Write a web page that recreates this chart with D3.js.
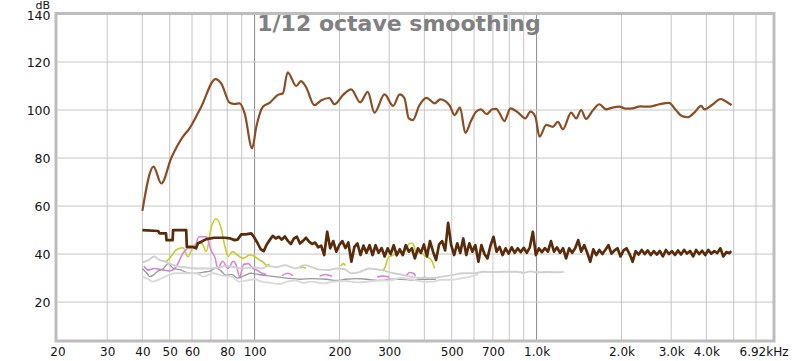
<!DOCTYPE html>
<html><head><meta charset="utf-8">
<script src="https://cdn.jsdelivr.net/npm/d3@7"></script>
<style>
html,body{margin:0;padding:0;background:#fff;}
svg{display:block;font-family:"DejaVu Sans",sans-serif;}
</style></head>
<body>
<svg id="c" width="800" height="361"></svg>
<script>
// ---------- data ----------
const title = "1/12 octave smoothing";
const yTicks = [20, 40, 60, 80, 100, 120, 140];
const xLabelTicks = [20, 30, 40, 50, 60, 80, 100, 200, 300, 500, 700, 1000, 2000, 3000, 4000, 6920];
const xGridTicks = [30, 40, 50, 60, 70, 80, 90, 100, 200, 300, 400, 500, 600, 700, 800, 900, 1000, 2000, 3000, 4000, 5000, 6000];

const mainFreq = [40,43.8,46.7,50.6,55.7,58.8,64.7,72.7,76.2,81.6,84.9,88.5,92.2,98,101.4,107,113,121,126,131,140.5,146,152,163,172,184,192,206,220,237,252,266,289,310,327,340,352,364,384,407,435,455,491,512,535,559,585,610,635,664,697,719,739,769,808,858,912,951,990,1024,1082,1141,1190,1240,1326,1381,1439,1496,1587,1670,1761,1860,1965,2070,2187,2330,2505,2721,2950,3118,3275,3430,3624,3832,3938,4221,4488,4650,4916];
const mainDb   = [58,76.4,69.4,79.9,88.9,92.4,101.4,112.9,111,103,102.5,102.8,98.6,84,93,101.4,103,106.3,107,115.7,110,112,109.7,102,104,105,102.4,106.3,108.6,103.2,107.6,98.9,106.5,101.7,106.5,104.9,96.5,95.8,102,105.1,102.8,104.4,102,97.9,101,90.5,95.4,99.3,100.3,98.3,100.3,100.5,98.7,95.4,100.7,99,96.5,99.3,97.2,88.9,93.8,93,95.1,92,98.9,96.5,100,96.3,100,102.4,100.3,101,101.4,100.6,100.7,101.5,101.4,102.4,103,100,97.5,97,98.9,101.7,100.3,102.4,104.6,103.9,102];

const noiseFreq = [
  40,45.5,46,48.5,48.7,51.2,51.4,57.2,57.5,60.4,
  62,63,64.7,67.4,72,78.3,82,85,87,89.7,
  93,97.3,99,
  102.5,105.1,107.7,110.4,113.1,116.0,118.9,121.8,124.9,128.0,
  131.2,134.5,137.9,141.3,144.8,148.5,152.2,156.0,159.9,163.9,
  168.0,172.2,176.5,180.9,185.4,190.1,194.8,199.7,204.7,209.8,
  215.0,220.4,225.9,231.6,237.4,243.3,249.4,255.6,262.0,268.5,
  275.2,282.1,289.2,296.4,303.8,311.4,319.2,327.2,335.4,343.7,
  352.3,361.1,370.2,379.4,388.9,398.6,408.6,418.8,429.3,440.0,
  451.0,462.3,473.9,485.7,497.8,510.3,523.0,536.1,549.5,563.3,
  577.4,591.8,606.6,621.8,637.3,653.2,669.6,686.3,703.5,721.1,
  739.1,757.6,776.5,795.9,815.8,836.2,857.1,878.5,900.5,923.0,
  946.1,969.8,994.0,1018.9,1044.3,1070.4,1097.2,1124.6,1152.7,1181.6,
  1211.1,1241.4,1272.4,1304.2,1336.8,1370.3,1404.5,1439.6,1475.6,1512.5,
  1550.3,1589.1,1628.8,1669.5,1711.3,1754.0,1797.9,1842.8,1888.9,1936.1,
  1984.5,2034.1,2085.0,2137.1,2190.5,2245.3,2301.4,2359.0,2418.0,2478.4,
  2540.4,2603.9,2669.0,2735.7,2804.1,2874.2,2946.0,3019.7,3095.2,3172.6,
  3251.9,3333.2,3416.5,3501.9,3589.5,3679.2,3771.2,3865.5,3962.1,4061.2,
  4162.7,4266.8,4373.4,4482.8,4594.8,4709.7,4827.5,4900];
const noiseDb = [
  50,49.6,48.6,48.6,45.8,45.8,50,50,43,43,
  42.4,44.5,45.1,46.2,46.8,46.8,46.5,45.8,46,48.2,
  48.2,48.6,47.5,
  44.5,42,41.2,44,45.8,47.6,46.5,47.2,46,47.3,
  45.5,44.2,46.5,47.2,44.4,45.5,46.8,45.2,44.2,44.8,
  42.8,43.5,39.6,49.3,42.4,45.4,41,43.8,45.4,42.5,
  44.8,36.8,43,44.4,39.6,43.5,40.5,43.7,39.6,43.7,
  40.5,42.5,39,42.4,40,43.7,39.5,42,39.6,43.7,
  41,42.4,38.2,42.4,40.5,44,39,45.4,41,37.5,
  44,45.4,41.5,53,43.7,39.6,44.5,40.5,46.5,39.6,
  44.5,41,43.7,36.8,43.7,40,38.2,43.5,47.2,41,
  43,39.6,42.4,40.2,42.8,40.5,42.4,40.8,42.6,40.5,
  42.8,49.3,39.6,42.4,40.8,42.5,41,45.4,41,42.8,
  40.5,42.4,38.2,42.4,40.5,42.4,45.8,41,43.7,40.5,
  36.8,42,39.6,41.7,40,41.8,43.7,40.2,41.5,42.4,
  39,41.5,42.4,40,36.8,41.2,39.8,41.7,40,41.5,
  39.6,41.2,39.8,41.3,39,41.7,40,41.2,39.6,41.5,
  39.8,41.7,40.2,41.3,39,41.7,40,41.4,39.6,41.7,
  40.2,41.2,40.4,42.4,39,40.8,40.4,41.2];

const yellowFreq = [48.6,50.5,52.7,55.7,58,60.4,62.5,65,67.4,70,73,76,78.3,80.5,83.5,87,91,96,100,104,107,110,113,null,145,148,152,null,202,206,210,null,285,289,297,310,322,340,354,364,373,390,407,423,435];
const yellowDb   = [36.8,39,41.7,42.6,38.9,43,44.4,44.4,41,50.7,54.6,51,43.7,39,41,39.6,38.2,39.6,39,37.5,36.8,35.4,35.8,null,34,34.6,34,null,35,36,35.2,null,33.5,34,38.2,39.6,40.5,41,44.4,44.4,41,40.3,38.9,37.5,34];

const pinkFreq = [40.5,42,44,47,50,52.7,55.7,58.5,61,63.5,67.4,70,72.5,74,77,80.5,84,86,88.5,91.5,95,98.5,102,106,110,null,125,131,137,null,170,178,188,null,272,285,300,null,345,355,365,372,null,393,400,408];
const pinkDb   = [35,33.3,34,33.5,33,34.7,40.3,42.5,42.5,47.2,47.2,41.7,38.2,34,37,34,37,35.5,30.6,35.7,36,34,33.3,32,31.5,null,31,32,31,null,30.8,31.5,30.8,null,30.5,30.8,30.5,null,31,32.3,32,31,null,30,30.3,30];

const greyFreq = [40,41.5,42.5,44,45.5,47,49.5,51.5,55,57,62,66,70,73,76,79,83,87,92,97,103,110,120,130,145,160,180,195,210,230,250,280,300,330,360,400,430,440];
const greyDb   = [34,32,30.6,31.5,33,33.5,36,34,33.3,32.5,32,32.5,33,34.3,33,31.2,31.5,30,31,32,31.5,31,30.5,30,29.5,29.8,29.5,29,29.5,29.8,29.5,29,29.5,29.5,29.2,29.5,29.5,29.6];

const lightAFreq = [40,42,44,46,48,50,53,57,62,70,80,90,100,106,112,120,128,135,140,150,160,170,182,195,208,220,235,255,275,290,310,330,360,400,430,460,500,550,600,650,700,760,850,900,950,1000,1100,1200,1250];
const lightADb   = [36.5,37.5,39,37.5,37,36,35,34.5,34,34,35,34,34.5,34,35,34.5,35.4,34.5,34,35.4,34.5,33.5,33.3,34,33.8,32,32.5,34,33.5,33,32,31.5,30.5,30,30,30.6,31.2,32,32,32.6,32.5,32.6,32.6,32.2,32.8,32.4,32.5,32.4,32.6];

const lightBFreq = [40,42,43.5,46,49,52,57,62,66,71,77,83,88,94,100,106,114,122,130,140,148,160,175,190,210,230,255,280,300,330,360,400,430,460,500,540,580,620];
const lightBDb   = [30.6,29.5,28.5,29.5,31,32,32,32,30.6,32,31,30.6,28.5,29,29.5,28.5,28,27.5,28.5,29,28,28.5,27.8,28.5,28.8,28.2,28.5,29,29,30,29.5,28.5,28.5,29.3,29.3,29.9,30.5,31.5];

// ---------- chart ----------
const svg = d3.select("#c");
const L = 57.5, R = 773.5, T = 14, B = 340;
const x = d3.scaleLog().domain([20, 6920]).range([L, R]);
const y = d3.scaleLinear().domain([4.2, 140]).range([B, T]);

svg.append("defs").append("clipPath").attr("id","clip")
  .append("rect").attr("x",L).attr("y",T).attr("width",R-L).attr("height",B-T);

// grid
const g = svg.append("g");
g.selectAll("line.v").data(xGridTicks).join("line")
  .attr("x1",d=>x(d)).attr("x2",d=>x(d)).attr("y1",T).attr("y2",B)
  .attr("stroke",d=>(d===100||d===1000)?"#8a8a8a":"#c6c6c6").attr("stroke-width",1);
g.selectAll("line.h").data(yTicks.filter(d=>d<140)).join("line")
  .attr("x1",L).attr("x2",R).attr("y1",d=>y(d)).attr("y2",d=>y(d))
  .attr("stroke","#c6c6c6").attr("stroke-width",1);

// frame
svg.append("rect").attr("x",L-1.5).attr("y",T-0.5).attr("width",R-L+2).attr("height",B-T+1.5)
  .attr("fill","none").attr("stroke","#bdbdbd").attr("stroke-width",3);

// lines
function series(fr, db){ return fr.map((f,i)=>({f:f, v:db[i]})); }
const line = d3.line().defined(d=>d.f!==null && d.v!==null)
  .x(d=>x(d.f)).y(d=>y(d.v)).curve(d3.curveMonotoneX);
const lineLin = d3.line().defined(d=>d.f!==null && d.v!==null)
  .x(d=>x(d.f)).y(d=>y(d.v));
const plot = svg.append("g").attr("clip-path","url(#clip)");
const defs = [
  {fr:yellowFreq, db:yellowDb, c:"#c6cc2c", w:1.6, gen:line},
  {fr:pinkFreq, db:pinkDb, c:"#d684d8", w:1.6, gen:line},
  {fr:greyFreq, db:greyDb, c:"#9a9a9a", w:1.3, gen:line},
  {fr:lightBFreq, db:lightBDb, c:"#dadada", w:1.9, gen:line},
  {fr:lightAFreq, db:lightADb, c:"#d0d0d0", w:1.9, gen:line},
  {fr:noiseFreq, db:noiseDb, c:"#5a2b0b", w:2.7, gen:lineLin},
  {fr:mainFreq, db:mainDb, c:"#8c4d22", w:2.2, gen:line}
];
defs.forEach(s=>{
  plot.append("path").datum(series(s.fr,s.db))
    .attr("fill","none").attr("stroke",s.c).attr("stroke-width",s.w)
    .attr("stroke-linejoin","round").attr("d",s.gen);
});

// axes
const fmtX = d => d===6920 ? "6.92kHz" : (d>=1000 ? (d/1000).toFixed(1)+"k" : String(d));
const xa = svg.append("g").attr("transform",`translate(0,${B})`)
  .call(d3.axisBottom(x).tickValues(xLabelTicks).tickFormat(fmtX).tickSize(0).tickPadding(7));
xa.select(".domain").remove();
xa.selectAll("text").attr("font-size",12).attr("font-family","DejaVu Sans, sans-serif").attr("fill","#111");
xa.selectAll(".tick").filter(d=>d===6920).select("text").attr("text-anchor","end").attr("x",14.5);

const ya = svg.append("g").attr("transform",`translate(${L},0)`)
  .call(d3.axisLeft(y).tickValues(yTicks).tickSize(0).tickPadding(7));
ya.select(".domain").remove();
ya.selectAll("text").attr("font-size",12.5).attr("font-family","DejaVu Sans, sans-serif").attr("fill","#111");
ya.selectAll(".tick").filter(d=>d===140).select("text").attr("dy","0.45em");

svg.append("text").attr("x",50).attr("y",8.5).attr("text-anchor","end")
  .attr("font-size",11).attr("fill","#111").text("dB");

svg.append("text").attr("x",399).attr("y",31).attr("text-anchor","middle")
  .attr("font-size",22).attr("font-weight","bold").attr("fill","#808080").text(title);
</script>
</body></html>
